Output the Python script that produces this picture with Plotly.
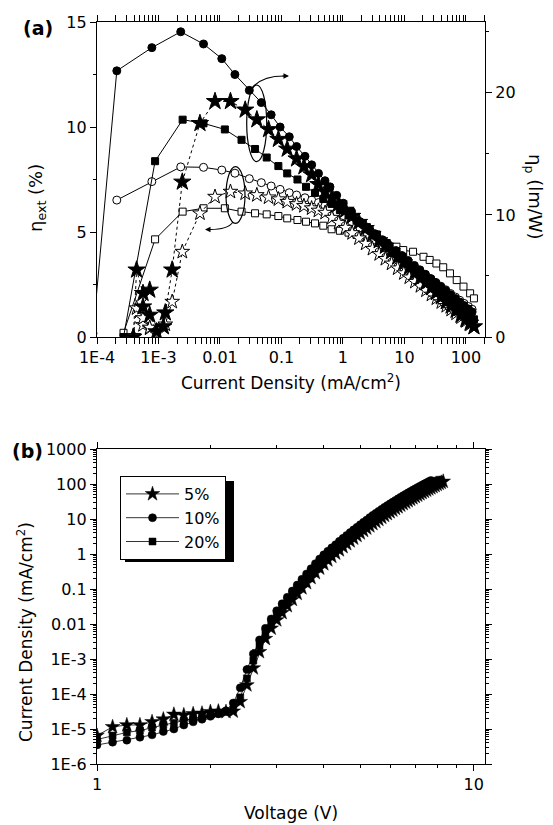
import plotly.graph_objects as go

# ---------------- Panel (a) data ----------------
# 5 % (stars): current density (mA/cm2), EQE (%), power efficiency (lm/W)
j_a_5 = [3.9e-4, 4.4e-4, 5.6e-4, 7.2e-4, 5.6e-4, 7.2e-4, 9.3e-4, 1.2e-3, 1.29e-3, 1.67e-3,
         2.44e-3, 4.72e-3, 8.3e-3, 0.0148, 0.0257, 0.0398, 0.0617, 0.0891, 0.124, 0.176,
         0.232, 0.309, 0.398, 0.513, 0.661, 0.851, 1.10, 1.41, 1.82, 2.34,
         3.02, 3.89, 4.90, 6.17, 7.76, 9.77, 12.0, 14.8, 18.2, 22.4,
         27.5, 33.1, 39.8, 47.9, 57.5, 69.2, 83.2, 100, 117, 135]
eqe_5 = [0.05, 1.37, 0.57, 0.41, 0.9, 0.45, 0.17, 0.49, 0.6, 1.68,
         4.06, 5.89, 6.68, 6.92, 6.84, 6.76, 6.65, 6.56, 6.44, 6.33,
         6.24, 6.13, 6.02, 5.92, 5.68, 5.44, 5.2, 4.95, 4.7, 4.45,
         4.2, 3.95, 3.72, 3.5, 3.27, 3.04, 2.84, 2.63, 2.43, 2.22,
         2.02, 1.84, 1.66, 1.48, 1.3, 1.12, 0.94, 0.76, 0.6, 0.47]
pe_5 = [0.0, 5.5, 3.58, 3.85, 2.48, 1.8, 0.44, 0.85, 1.99, 5.5,
        12.7, 17.5, 19.3, 19.3, 18.6, 17.8, 17.0, 16.2, 15.4, 14.6,
        13.96, 13.3, 12.5, 11.9, 11.4, 10.9, 10.4, 9.9, 9.4, 8.9,
        8.4, 7.9, 7.45, 7.0, 6.55, 6.1, 5.7, 5.3, 4.85, 4.45,
        4.05, 3.65, 3.3, 2.9, 2.55, 2.2, 1.8, 1.45, 1.15, 0.85]

# 10 % (circles)
j_a_10 = [8.6e-5, 2.1e-4, 7.8e-4, 2.3e-3, 5.4e-3, 0.0107, 0.0175, 0.030, 0.047, 0.068,
          0.095, 0.134, 0.176, 0.241, 0.31, 0.40, 0.51, 0.615, 0.79, 1.01,
          1.38, 1.89, 2.51, 3.31, 4.37, 5.62, 7.24, 9.12, 11.5, 14.5,
          17.8, 21.9, 26.9, 32.4, 38.9, 46.8, 56.2, 67.6, 79.4, 93.3,
          110, 126]
eqe_10 = [None, 6.52, 7.4, 8.1, 8.08, 7.95, 7.8, 7.54, 7.35, 7.19,
          7.03, 6.87, 6.76, 6.63, 6.52, 6.4, 6.25, 6.12, 5.95, 5.78,
          5.5, 5.2, 4.9, 4.62, 4.38, 4.15, 3.93, 3.73, 3.53, 3.33,
          3.15, 2.97, 2.78, 2.6, 2.42, 2.25, 2.07, 1.9, 1.75, 1.6,
          1.45, 1.32]
pe_10 = [0.3, 21.8, 23.7, 25.0, 24.0, 22.8, 21.5, 20.2, 19.2, 18.2,
         17.2, 16.4, 15.6, 14.8, 14.1, 13.4, 12.8, 12.3, 11.6, 10.96,
         10.27, 9.45, 8.95, 8.46, 7.97, 7.52, 7.08, 6.67, 6.26, 5.86,
         5.5, 5.13, 4.77, 4.44, 4.12, 3.8, 3.47, 3.15, 2.86, 2.58,
         2.3, 2.05]

# 20 % (squares)
j_a_20 = [2.7e-4, 8.8e-4, 2.47e-3, 5.4e-3, 0.012, 0.0224, 0.0372, 0.0575, 0.089, 0.124,
          0.182, 0.251, 0.351, 0.479, 0.653, 0.891, 1.23, 1.66, 2.45, 3.55,
          5.13, 7.41, 9.55, 13.8, 20.4, 25.7, 33.1, 42.7, 55.0, 70.8,
          91.2, 117, 135]
eqe_20 = [0.2, 4.65, 5.97, 6.13, 6.13, 5.97, 5.89, 5.84, 5.76, 5.65,
          5.57, 5.49, 5.41, 5.3, 5.13, 5.06, 4.97, 4.86, 4.7, 4.62,
          4.46, 4.3, 4.14, 4.06, 3.82, 3.67, 3.5, 3.32, 3.03, 2.71,
          2.4, 2.08, 1.84]
pe_20 = [0.0, 14.4, 17.8, 17.5, 17.0, 16.15, 15.4, 14.7, 14.0, 13.4,
         12.9, 12.3, 11.8, 11.3, 10.9, 10.4, 9.95, 9.55, 9.0, 8.4,
         7.7, 7.0, 6.5, 5.8, 5.05, 4.6, 4.1, 3.6, 3.1, 2.6,
         2.15, 1.7, 1.45]

# ---------------- Panel (b) data ----------------
voltage = [1.0, 1.1, 1.2, 1.3, 1.4, 1.5, 1.6, 1.7, 1.8, 1.9,
           2.0, 2.1, 2.2, 2.3, 2.4, 2.5, 2.6, 2.7, 2.8, 2.9,
           3.0, 3.1, 3.2, 3.3, 3.4, 3.5, 3.6, 3.7, 3.8, 3.9,
           4.0, 4.1, 4.2, 4.3, 4.4, 4.5, 4.6, 4.7, 4.8, 4.9,
           5.0, 5.1, 5.2, 5.3, 5.4, 5.5, 5.6, 5.7, 5.8, 5.9,
           6.0, 6.1, 6.2, 6.3, 6.4, 6.5, 6.6, 6.7, 6.8, 6.9,
           7.0, 7.1, 7.2, 7.3, 7.4, 7.5, 7.6, 7.7, 7.8, 7.9,
           8.0, 8.1, 8.2, 8.3]
j_b_5 = [6.5e-6, 1.15e-5, 1.3e-5, 1.3e-5, 1.6e-5, 1.9e-5, 2.6e-5, 2.5e-5, 2.7e-5, 2.8e-5,
         3.1e-5, 3.2e-5, 3.1e-5, 3.2e-5,
         6e-5, 1.8e-4, 5.5e-4, 1.6e-3, 3.8e-3, 7.5e-3, 0.013, 0.021, 0.033, 0.05,
         0.074, 0.107, 0.15, 0.21, 0.29, 0.39, 0.52, 0.67, 0.85, 1.05,
         1.3, 1.6, 1.95, 2.35, 2.8, 3.35, 3.95, 4.65, 5.45, 6.3,
         7.3, 8.4, 9.6, 11, 12.5, 14.1, 15.9, 17.8, 19.9, 22.1,
         24.6, 27.2, 30, 33, 36.3, 39.8, 43.5, 47.5, 51.8, 56.3,
         61, 66, 71.5, 77, 83, 89.5, 96, 103, 110, 118]
j_b_10 = [3.5e-6, 4.2e-6, 4.8e-6, 5.8e-6, 6.8e-6, 8.5e-6, 1.0e-5, 1.3e-5, 1.6e-5, 1.9e-5,
          2.3e-5, 2.7e-5, 3.3e-5, 5.5e-5,
          1.5e-4, 5e-4, 1.4e-3, 3.5e-3, 7.5e-3, 0.014, 0.024, 0.038, 0.058, 0.088,
          0.13, 0.19, 0.27, 0.38, 0.53, 0.72, 0.95, 1.2, 1.5, 1.85,
          2.3, 2.8, 3.4, 4.1, 4.9, 5.8, 6.9, 8.1, 9.4, 11,
          12.7, 14.6, 16.7, 19, 21.5, 24.3, 27.3, 30.5, 34, 37.8,
          42, 46.5, 51, 56, 61.5, 67, 73, 79.5, 86, 93,
          101, 109, 117, 126]
j_b_20 = [5e-6, 6.5e-6, 8e-6, 9e-6, 1.1e-5, 1.3e-5, 1.5e-5, 1.7e-5, 2.0e-5, 2.3e-5,
          2.6e-5, 2.9e-5, 3.1e-5, 3.6e-5,
          8e-5, 2.8e-4, 9e-4, 2.4e-3, 5.5e-3, 0.011, 0.019, 0.030, 0.046, 0.07,
          0.104, 0.15, 0.21, 0.3, 0.42, 0.57, 0.76, 0.97, 1.22, 1.5,
          1.85, 2.25, 2.75, 3.3, 3.95, 4.7, 5.55, 6.5, 7.6, 8.8,
          10.2, 11.7, 13.4, 15.2, 17.2, 19.4, 21.8, 24.4, 27.2, 30.2,
          33.5, 37, 40.8, 44.8, 49, 53.5, 58.5, 63.5, 69, 75,
          81, 87.5, 94, 101, 108, 116, 124, 132]

labels = ["5%", "10%", "20%"]
xticks_a = [1e-4, 1e-3, 1e-2, 1e-1, 1, 10, 100]
xtext_a = ["1E-4", "1E-3", "0.01", "0.1", "1", "10", "100"]
yticks_b = [1e-6, 1e-5, 1e-4, 1e-3, 1e-2, 1e-1, 1, 10, 100, 1000]
ytext_b = ["1E-6", "1E-5", "1E-4", "1E-3", "0.01", "0.1", "1", "10", "100", "1000"]

# ---------------- layout geometry (window pixels; page body has an 8px margin) ----------------
OFF = 8
W, H = 553 - OFF, 825 - OFF
L, R, T, B = 97, 485, 22, 764          # plot area in window pixels
def px(x):
    return (x - L) / (R - L)
def py(y):
    return (B - y) / (B - T)

FONT = "DejaVu Sans, Liberation Sans, Arial, sans-serif"
fig = go.Figure()

def add_a(x, y, yaxis, symbol, size, filled, dash):
    fig.add_trace(go.Scatter(
        x=x, y=y, xaxis="x", yaxis=yaxis, mode="lines+markers", showlegend=False,
        line=dict(color="black", width=1, dash=dash),
        marker=dict(symbol=symbol, size=size, color="black" if filled else "white",
                    line=dict(color="black", width=1))))

# open symbols -> EQE (left axis), filled -> power efficiency (right axis)
add_a(j_a_20, eqe_20, "y", "square", 7, False, "solid")
add_a(j_a_10, eqe_10, "y", "circle", 8, False, "solid")
add_a(j_a_5, eqe_5, "y", "star", 11, False, "dot")
add_a(j_a_20, pe_20, "y2", "square", 7, True, "solid")
add_a(j_a_10, pe_10, "y2", "circle", 8, True, "solid")
add_a(j_a_5, pe_5, "y2", "star", 13, True, "dot")

for j, sym, sz, lab in [(j_b_5, "star", 11, labels[0]), (j_b_10, "circle", 8, labels[1]),
                        (j_b_20, "square", 7, labels[2])]:
    fig.add_trace(go.Scatter(
        x=voltage[:len(j)], y=j, xaxis="x2", yaxis="y3", mode="lines+markers", name=lab,
        line=dict(color="black", width=0.8),
        marker=dict(symbol=sym, size=sz, color="black", line=dict(color="black", width=0.5))))

def minor_log(lo, hi):
    vals = []
    for e in range(lo, hi + 1):
        for m in range(2, 10):
            vals.append(m * 10.0 ** e)
    return vals

axis_common = dict(showline=True, linecolor="black", linewidth=1.3, showgrid=False, zeroline=False,
                   ticks="outside", ticklen=6, tickwidth=1.2, tickcolor="black",
                   tickfont=dict(family=FONT, size=16, color="black"))

fig.update_layout(
    width=W, height=H, paper_bgcolor="white", plot_bgcolor="white",
    margin=dict(l=L - OFF, r=W - (R - OFF), t=T - OFF, b=H - (B - OFF), pad=0, autoexpand=False),
    font=dict(family=FONT, color="black"),
    xaxis=dict(domain=[0, 1], anchor="y", type="log", range=[-4, 2.31],
               tickmode="array", tickvals=xticks_a, ticktext=xtext_a, mirror="allticks",
               minor=dict(tickmode="array", tickvals=minor_log(-4, 2), ticks="outside",
                          ticklen=3, tickcolor="black"), **axis_common),
    yaxis=dict(domain=[py(337), 1], anchor="x", range=[0, 15], tickmode="array",
               tickvals=[0, 5, 10, 15],
               minor=dict(tickmode="array", tickvals=[2.5, 7.5, 12.5], ticks="outside",
                          ticklen=3, tickcolor="black"), **axis_common),
    yaxis2=dict(overlaying="y", side="right", anchor="x", range=[0, 25.8], tickmode="array",
                tickvals=[0, 10, 20],
                minor=dict(tickmode="array", tickvals=[5, 15, 25], ticks="outside",
                           ticklen=3, tickcolor="black"), **axis_common),
    xaxis2=dict(domain=[0, 1], anchor="y3", type="log", range=[0, 1.03],
                tickmode="array", tickvals=[1, 10], ticktext=["1", "10"], mirror="allticks",
                minor=dict(tickmode="array", tickvals=minor_log(0, 0), ticks="outside",
                           ticklen=3, tickcolor="black"), **axis_common),
    yaxis3=dict(domain=[0, py(449)], anchor="x2", type="log", range=[-6, 3],
                tickmode="array", tickvals=yticks_b, ticktext=ytext_b, mirror="allticks",
                minor=dict(tickmode="array", tickvals=minor_log(-6, 2), ticks="outside",
                           ticklen=3, tickcolor="black"), **axis_common),
    legend=dict(x=px(120), y=py(476), xanchor="left", yanchor="top",
                bgcolor="white", bordercolor="black", borderwidth=1,
                font=dict(family=FONT, size=16, color="black"),
                tracegroupgap=0, itemwidth=53),
)

shapes = [
    # legend shadow
    dict(type="rect", xref="paper", yref="paper", x0=px(125), x1=px(234), y0=py(562), y1=py(481),
         fillcolor="black", line=dict(width=0), layer="above"),
    # ellipses
    dict(type="circle", xref="paper", yref="paper", x0=px(246.7), x1=px(266.7),
         y0=py(161.7), y1=py(85), line=dict(color="black", width=1.2)),
    dict(type="circle", xref="paper", yref="paper", x0=px(226), x1=px(245),
         y0=py(223.3), y1=py(166.7), line=dict(color="black", width=1.2)),
    # curved arrow bodies
    dict(type="path", xref="paper", yref="paper",
         path=f"M {px(251)} {py(89)} Q {px(261)} {py(76)} {px(284)} {py(76)}",
         line=dict(color="black", width=1.1)),
    dict(type="path", xref="paper", yref="paper",
         path=f"M {px(233)} {py(222)} Q {px(228)} {py(229.5)} {px(210)} {py(229.5)}",
         line=dict(color="black", width=1.1)),
]
fig.update_layout(shapes=shapes)

def txt(x, y, text, size, angle=0):
    return dict(x=px(x), y=py(y), xref="paper", yref="paper", text=text, showarrow=False,
                xanchor="center", yanchor="middle", textangle=angle,
                font=dict(family=FONT, size=size, color="black"))

ann = [
    dict(x=px(289), y=py(76), xref="paper", yref="paper", text="", showarrow=True,
         ax=-8, ay=0, arrowhead=2, arrowsize=1, arrowwidth=1.1, arrowcolor="black"),
    dict(x=px(205), y=py(229.5), xref="paper", yref="paper", text="", showarrow=True,
         ax=8, ay=0, arrowhead=2, arrowsize=1, arrowwidth=1.1, arrowcolor="black"),
    txt(38, 28, "<b>(a)</b>", 19),
    txt(27, 451, "<b>(b)</b>", 19),
    txt(291, 382, "Current Density (mA/cm<sup>2</sup>)", 17),
    txt(37, 198, "η<sub>ext</sub> (%)", 18, -90),
    txt(534, 197, "η<sub>p</sub> (lm/W)", 18, 90),
    txt(25, 632, "Current Density (mA/cm<sup>2</sup>)", 17, -90),
    txt(291, 813, "Voltage (V)", 17),
]
fig.update_layout(annotations=ann)

fig.write_html("out.html")
